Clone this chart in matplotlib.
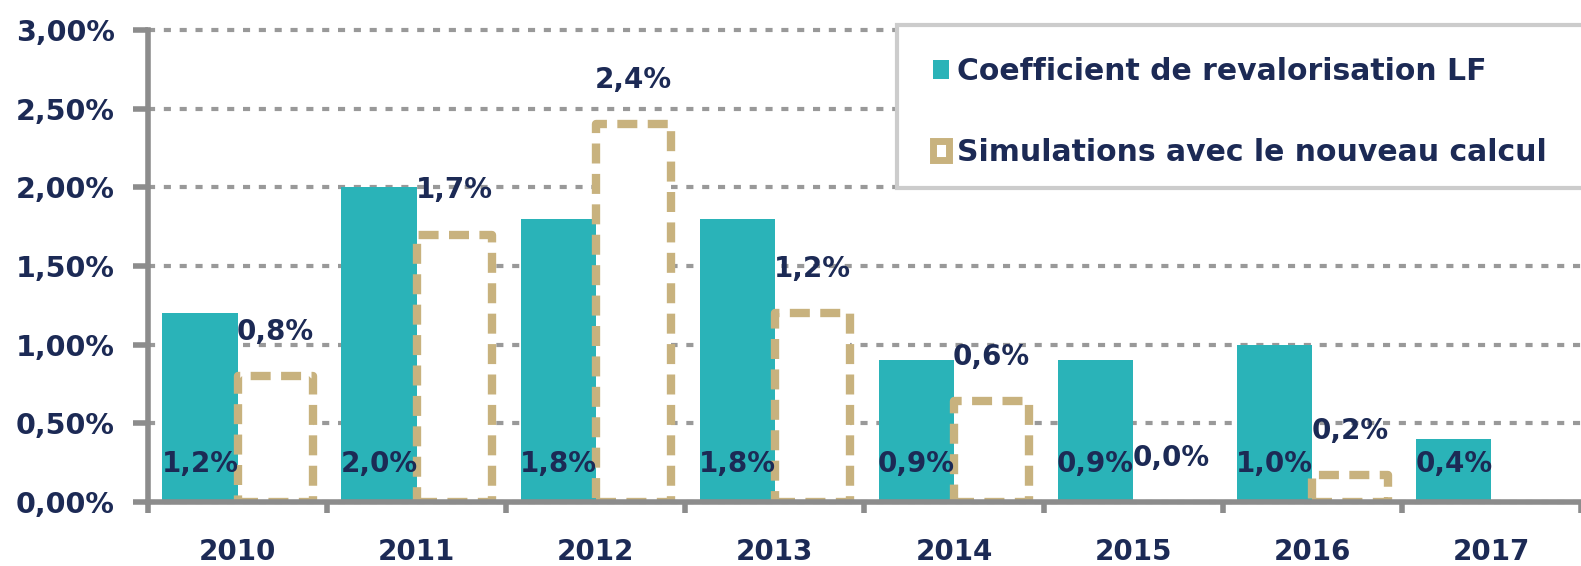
import matplotlib.pyplot as plt
from matplotlib.patches import Patch, Rectangle
from matplotlib.ticker import FuncFormatter
import numpy as np

# data (values in %)
years = ['2010', '2011', '2012', '2013', '2014', '2015', '2016', '2017']
coef_lf = [1.2, 2.0, 1.8, 1.8, 0.9, 0.9, 1.0, 0.4]
simul = [0.8, 1.7, 2.4, 1.2, 0.64, 0.0, 0.17, np.nan]

teal = '#2ab3b8'
gold = '#c8b27e'
navy = '#1c2a55'
grey = '#8c8c8c'

plt.rcParams['font.family'] = 'DejaVu Sans'
plt.rcParams['font.weight'] = 'bold'

W, H = 1581, 566
fig = plt.figure(figsize=(W / 100, H / 100), dpi=100)
ax = fig.add_axes([0.0936, 0.113, 0.9064, 0.834])

x = np.arange(len(years))
w = 0.42
b1 = ax.bar(x - 0.21, coef_lf, w, color=teal, zorder=2)
b2 = ax.bar(x + 0.21, simul, w, facecolor='white', edgecolor=gold, zorder=2)
for p in b2:
    p.set_linewidth(6)
    p.set_linestyle((0, (2.4, 1.25)))
    p.set_joinstyle('round')
    if not p.get_height() > 0:
        p.set_visible(False)

def fr(v):
    return f'{v:.1f}'.replace('.', ',') + '%'

# labels
for xi, v in zip(x, coef_lf):
    ax.text(xi - 0.21, 0.24, fr(v), ha='center', va='center',
            fontsize=20, fontweight='bold', color=navy, zorder=4)
for xi, v in zip(x, simul):
    if np.isnan(v):
        continue
    ax.annotate(fr(v), (xi + 0.21, v), xytext=(0, 32), textcoords='offset points',
                ha='center', va='center', fontsize=20, fontweight='bold',
                color=navy, zorder=4)

ax.set_ylim(0, 3.0)
ax.set_xlim(-0.5, 7.47)
ax.set_yticks(np.arange(0, 3.01, 0.5))
ax.yaxis.set_major_formatter(FuncFormatter(lambda v, p: f'{v:.2f}'.replace('.', ',') + '%'))
ax.set_xticks(x)
ax.set_xticklabels(years)
ax.set_xticks(np.arange(-0.5, 8, 1), minor=True)
ax.tick_params(axis='x', which='major', length=0, pad=26, labelsize=20, labelcolor=navy)
ax.tick_params(axis='x', which='minor', length=8, width=4, color=grey)
ax.tick_params(axis='y', length=11, width=4, color=grey, pad=13, labelsize=20.5, labelcolor=navy)
for t in ax.get_xticklabels() + ax.get_yticklabels():
    t.set_fontweight('bold')

ax.grid(axis='y', color='#999999', linewidth=3, linestyle=(0, (1.7, 2.1)), zorder=0)
for gl in ax.get_ygridlines():
    gl.set_clip_on(False)
ax.set_axisbelow(True)
for s in ['top', 'right']:
    ax.spines[s].set_visible(False)
for s in ['left', 'bottom']:
    ax.spines[s].set_color(grey)
    ax.spines[s].set_linewidth(4)
    ax.spines[s].set_zorder(3)

# legend box runs off the right edge
frame = Rectangle((897 / W, 1 - 188 / H), 0.5, 163 / H, transform=fig.transFigure,
                  facecolor='white', edgecolor='#cccccc', linewidth=3,
                  clip_on=False, zorder=4.5)
ax.add_artist(frame)

handles = [Patch(facecolor=teal, edgecolor='none'),
           Patch(facecolor='white', edgecolor=gold, linewidth=5)]
leg = ax.legend(handles, ['Coefficient de revalorisation LF', 'Simulations avec le nouveau calcul'],
                loc='upper left', bbox_to_anchor=(933 / W, 1 - 57 / H),
                bbox_transform=fig.transFigure, fontsize=21.5, frameon=False,
                handlelength=0.55, handleheight=0.6, handletextpad=0.25,
                labelspacing=1.75, borderpad=0, borderaxespad=0)
for t in leg.get_texts():
    t.set_color(navy)
    t.set_fontweight('bold')

fig.savefig('out.png', dpi=100)
